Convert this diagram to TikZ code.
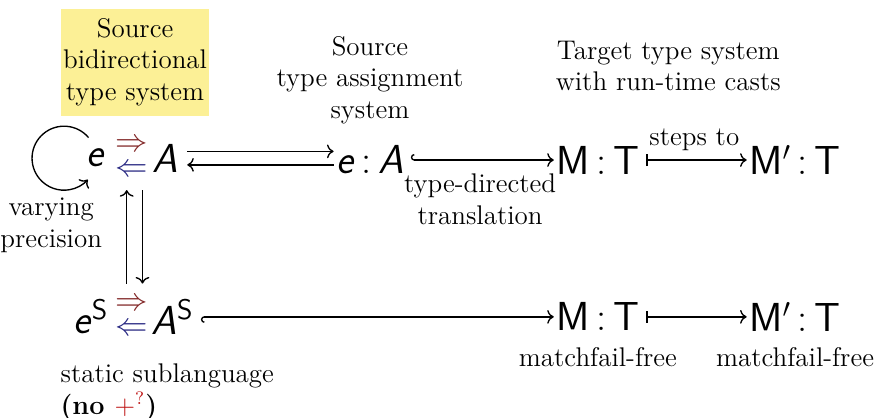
\documentclass[tikz,border=0pt]{standalone}
\usepackage{amsmath}
\usetikzlibrary{arrows.meta}
\definecolor{synthred}{RGB}{130,40,40}
\definecolor{checkblue}{RGB}{40,40,130}
\definecolor{boxyellow}{RGB}{252,240,150}
\definecolor{plusred}{RGB}{190,20,20}
\newcommand{\sfit}[1]{\textsf{\itshape #1}}
\newcommand{\sfup}[1]{\textsf{#1}}
\newcommand{\hasty}{\,:\,}
\newcommand{\bidirarr}{\raisebox{5pt}{\color{synthred}$\Rightarrow$}\llap{\raisebox{-6pt}{\color{checkblue}$\Leftarrow$}}}
\tikzset{
  judg/.style={font=\fontsize{18}{22}\selectfont, inner sep=1pt},
  dirs/.style={font=\fontsize{14}{17}\selectfont, inner sep=0pt},
  lbl/.style={align=center, inner sep=1pt, font=\large},
  arr/.style={->, semithick},
}
\begin{document}
\begin{tikzpicture}
\useasboundingbox (0,0) rectangle (13.81,-6.53);
\node[fill=boxyellow, lbl, minimum width=2.3cm, minimum height=1.67cm] (hdr1) at (2.11,-0.97) {Source\\bidirectional\\type system};
\node[lbl] (hdr2) at (5.78,-1.25) {Source\\type assignment\\system};
\node[lbl] (hdr3) at (10.44,-1.03) {Target type system\\with run-time casts};

% upper row
\node[judg] (e1) at (1.5,-2.47) {\sfit{e}};
\node[dirs] (s1) at (2.05,-2.47) {\bidirarr};
\node[judg] (a1) at (2.58,-2.47) {\sfit{A}};
\node[judg] (ta) at (5.78,-2.5) {\sfit{e}\hasty\sfit{A}};
\node[judg] (mt) at (9.34,-2.5) {\sfup{M}\hasty\sfup{T}};
\node[judg] (mt2) at (12.42,-2.5) {\sfup{M}$'$\hasty\sfup{T}};

% lower row
\node[judg] (e2) at (1.42,-4.95) {\sfit{e}\textsuperscript{\sfup{S}}};
\node[dirs] (s2) at (2.05,-4.95) {\bidirarr};
\node[judg] (a2) at (2.7,-4.95) {\sfit{A}\textsuperscript{\sfup{S}}};
\node[judg] (mtb) at (9.34,-4.95) {\sfup{M}\hasty\sfup{T}};
\node[judg] (mtb2) at (12.42,-4.95) {\sfup{M}$'$\hasty\sfup{T}};

\node[lbl] (vary) at (0.8,-3.52) {varying\\precision};
\node[lbl] (mf1) at (9.34,-5.58) {matchfail-free};
\node[lbl] (mf2) at (12.42,-5.58) {matchfail-free};
\node[lbl, align=left, anchor=north west, inner sep=0pt] (stat) at (0.94,-5.68) {static sublanguage\\\textbf{(no ${\color{plusred}+^{?}}$)}};

% loop on e
\coordinate (loopst) at ([shift={(0.07cm,0.32cm)}]e1.west);
\draw[arr] (loopst) arc[start angle=40, end angle=318, radius=0.5cm];

\draw[arr, shorten <=3pt] ([yshift=3pt]a1.east) -- ([yshift=3pt]a1.east -| ta.west);
\draw[arr, shorten >=3pt] ([yshift=-3pt]a1.east -| ta.west) -- ([yshift=-3pt]a1.east);
\draw[arr] ([shift={(-2pt,0.52cm)}]s2.center) -- ([shift={(-2pt,-0.5cm)}]s1.center);
\draw[arr] ([shift={(5pt,-0.5cm)}]s1.center) -- ([shift={(5pt,0.52cm)}]s2.center);

\draw[semithick, {Hooks[right]}->, shorten <=2pt] (ta.east) -- node[lbl, below=5pt] {type-directed\\translation} (mt.west);
\draw[semithick, |->, shorten <=2pt] (mt.east) -- node[lbl, above=3pt] {steps to} (mt2.west);
\draw[semithick, {Hooks[left]}->, shorten <=2pt] (a2.east) -- (mtb.west);
\draw[semithick, |->, shorten <=2pt] (mtb.east) -- (mtb2.west);
\end{tikzpicture}
\end{document}
